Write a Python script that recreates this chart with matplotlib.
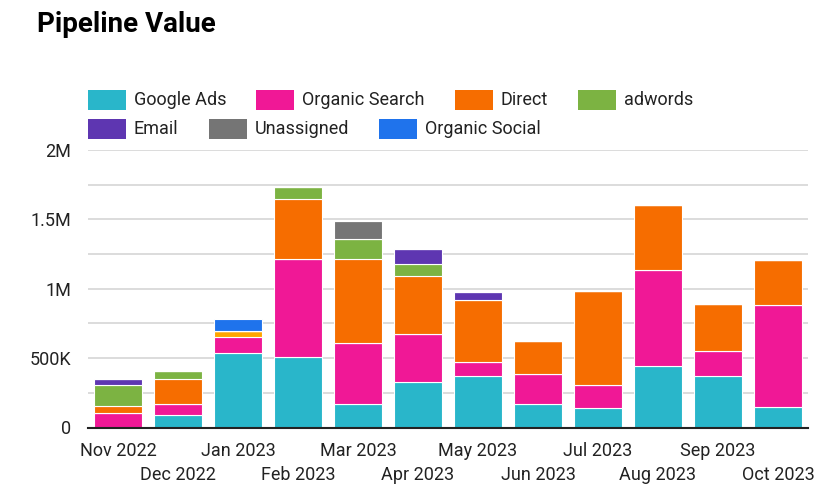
import matplotlib
matplotlib.use('Agg')
import matplotlib.pyplot as plt
from matplotlib.patches import Rectangle
from matplotlib.ticker import FuncFormatter, MultipleLocator

plt.rcParams['font.family'] = ['Roboto', 'DejaVu Sans']

# values in thousands
months = ['Nov 2022', 'Dec 2022', 'Jan 2023', 'Feb 2023', 'Mar 2023', 'Apr 2023',
          'May 2023', 'Jun 2023', 'Jul 2023', 'Aug 2023', 'Sep 2023', 'Oct 2023']
google_ads = [0, 91, 538, 505, 168, 327, 370, 168, 137, 440, 373, 149]
organic_search = [101, 77, 111, 707, 440, 346, 104, 214, 168, 692, 180, 731]
referral = [0, 0, 46, 0, 0, 0, 0, 0, 0, 6, 0, 0]
direct = [55, 178, 0, 435, 604, 416, 447, 245, 681, 466, 334, 329]
adwords = [147, 58, 0, 86, 144, 89, 0, 0, 0, 0, 0, 0]
email = [43, 0, 0, 0, 0, 108, 53, 0, 0, 0, 0, 0]
unassigned = [0, 0, 0, 0, 134, 0, 0, 0, 0, 0, 0, 0]
organic_social = [0, 0, 86, 0, 0, 0, 0, 0, 0, 0, 0, 0]

series = [
    ('Google Ads', google_ads, '#29b6ca', True),
    ('Organic Search', organic_search, '#f01896', True),
    ('Referral', referral, '#ffa600', False),
    ('Direct', direct, '#f66d00', True),
    ('adwords', adwords, '#7cb342', True),
    ('Email', email, '#5e36b1', True),
    ('Unassigned', unassigned, '#757575', True),
    ('Organic Social', organic_social, '#1f73ec', True),
]
legend_order = ['Google Ads', 'Organic Search', 'Direct', 'adwords',
                'Email', 'Unassigned', 'Organic Social']

W, H = 828, 500
fig = plt.figure(figsize=(W / 100, H / 100), dpi=100)
ax = fig.add_axes([88 / W, 1 - 427.5 / H, 720 / W, 277.5 / H])

x = list(range(len(months)))
bottom = [0] * len(months)
for name, vals, color, _ in series:
    v = [a * 1000 for a in vals]
    ax.bar(x, v, 0.8, bottom=bottom, color=color, edgecolor='white',
           linewidth=0.8, zorder=3)
    bottom = [b + c for b, c in zip(bottom, v)]

ax.set_xlim(-0.5, len(months) - 0.5)
ax.set_ylim(0, 2000000)

def fmt(v, pos):
    if v == 0:
        return '0'
    if v >= 1000000:
        return ('%g' % (v / 1e6)) + 'M'
    return '%dK' % (v / 1000)

ax.yaxis.set_major_locator(MultipleLocator(500000))
ax.yaxis.set_minor_locator(MultipleLocator(250000))
ax.yaxis.set_major_formatter(FuncFormatter(fmt))
ax.grid(axis='y', which='both', color='#d6d6d6', linewidth=1.2, zorder=0)
ax.set_axisbelow(True)

ax.set_xticks(x[::2])
ax.set_xticklabels(months[::2])
ax.set_xticks(x[1::2], minor=True)
ax.set_xticklabels(months[1::2], minor=True)
ax.tick_params(axis='x', which='major', length=0, pad=10.5, labelsize=13, colors='#222222')
ax.tick_params(axis='x', which='minor', length=0, pad=28, labelsize=13, colors='#222222')
ax.tick_params(axis='y', which='both', length=0, pad=12, labelsize=13, colors='#222222')

for s in ['top', 'right', 'left']:
    ax.spines[s].set_visible(False)
ax.spines['bottom'].set_color('#222222')
ax.spines['bottom'].set_linewidth(1.5)
ax.spines['bottom'].set_zorder(4)

fig.text(37 / W, 1 - 32 / H, 'Pipeline Value', fontsize=20, fontweight='bold',
         va='baseline', ha='left')

# legend, flow layout
renderer = fig.canvas.get_renderer()
colors = {name: color for name, _, color, _ in series}
lx, row_y = 88, 100
for name in legend_order:
    t = fig.text(0, 0, name, fontsize=13, color='#222222')
    tw = t.get_window_extent(renderer).width
    if lx + 46 + tw > 808:
        lx = 88
        row_y += 29
    fig.patches.append(Rectangle((lx / W, 1 - (row_y + 9.5) / H), 38 / W, 19 / H,
                                 transform=fig.transFigure, facecolor=colors[name],
                                 edgecolor='none'))
    t.set_position(((lx + 46) / W, 1 - row_y / H))
    t.set_va('center')
    lx += 46 + tw + 30

fig.savefig('out.png', dpi=100)
